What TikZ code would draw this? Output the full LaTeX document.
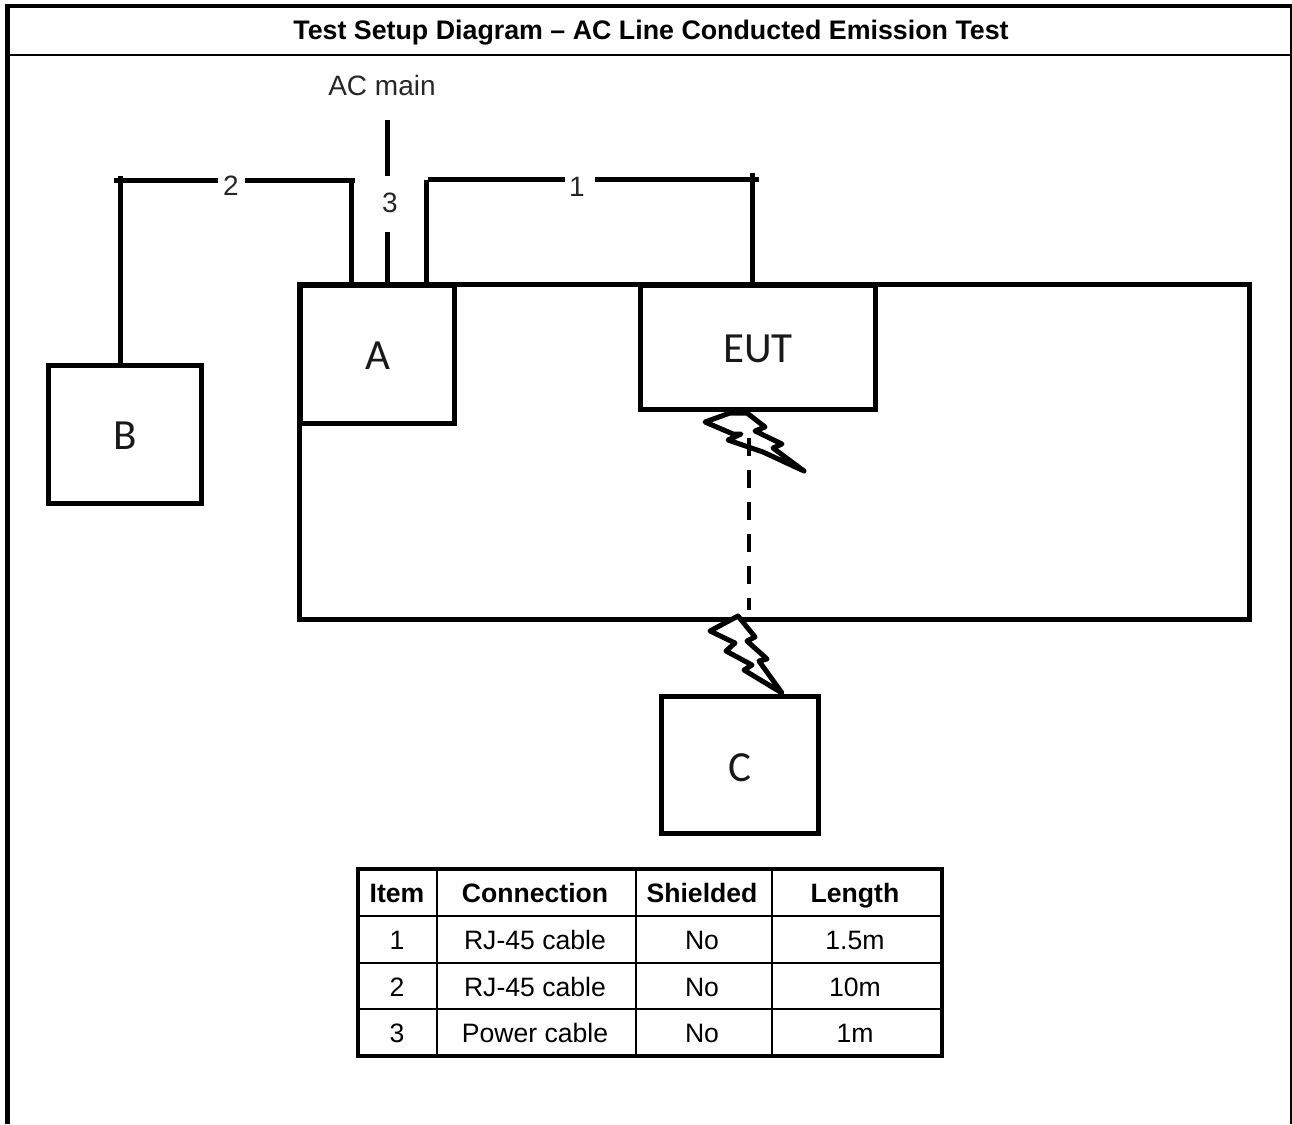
\documentclass[tikz,border=0pt]{standalone}
\usepackage{fontspec}
\setmainfont{Liberation Sans}
\newfontfamily\boxfont{Carlito}
\begin{document}
\begin{tikzpicture}[x=1pt,y=-1pt,
  wire/.style={line width=5pt,black},
  boxn/.style={draw=black,line width=5pt,inner sep=0pt},
  boxt/.style={inner sep=0pt,font=\boxfont\fontsize{43}{43}\selectfont,text=black!90},
  lab/.style={inner sep=0pt,anchor=base,font=\fontsize{28}{28}\selectfont,text=black!85},
  bolt/.style={line width=5pt,line join=round,fill=white,draw=black},
  cell/.style={inner sep=0pt,anchor=base,font=\fontsize{26.6}{26.6}\selectfont,text=black},
  hcell/.style={inner sep=0pt,anchor=base,font=\bfseries\fontsize{26.6}{26.6}\selectfont,text=black},
  rule/.style={line width=2.5pt,black},
  outerrule/.style={line width=3.2pt,black}]
\useasboundingbox (0,0) rectangle (1292,1124);
% frame
\draw[line width=2pt] (1291,5.8) -- (1291,1124);
\draw[line width=4.4pt] (7.3,1124) -- (7.3,5.8) -- (1292,5.8);
\draw[line width=2pt] (7,55) -- (1291,55);
\node[inner sep=0pt,anchor=base,font=\bfseries\fontsize{26.8}{26.8}\selectfont] (title) at (651,40) {Test Setup Diagram – AC Line Conducted Emission Test};
% boxes
\node[boxn,minimum width=950pt,minimum height=335pt] (bench) at (774,452) {};
\node[boxn,fill=white,minimum width=154pt,minimum height=138pt] (A) at (377,354.5) {};
\node[boxn,minimum width=153pt,minimum height=138pt] (B) at (124.5,434.5) {};
\node[boxn,fill=white,minimum width=235pt,minimum height=124pt] (EUT) at (757.5,347.5) {};
\node[boxn,minimum width=157pt,minimum height=137pt] (C) at (739.5,765) {};
\node[boxt] (Atext) at (377.5,356) {A};
\node[boxt] (Btext) at (125,436) {B};
\node[boxt] (EUTtext) at (758,349) {EUT};
\node[boxt] (Ctext) at (740,768) {C};
% labels
\node[lab] (acmain) at (382,95) {AC main};
\node[lab] (l2) at (231,195) {2};
\node[lab] (l3) at (390,212) {3};
\node[lab] (l1) at (577,196) {1};
% cable corners
\coordinate (b2l) at (114,180);
\coordinate (g2a) at (218,180);
\coordinate (g2b) at (245,180);
\coordinate (a2r) at (355,180);
\coordinate (a2t) at (351,180);
\coordinate (a2b) at (351,285);
\coordinate (bb) at (120,365);
\coordinate (bt2) at (120,176);
\coordinate (p3a) at (387,120);
\coordinate (p3b) at (387,176);
\coordinate (p3c) at (387,232);
\coordinate (p3d) at (387,285);
\coordinate (a1b) at (426,285);
\coordinate (a1t) at (426,180);
\coordinate (h1a) at (428,179);
\coordinate (h1b) at (565,179);
\coordinate (h1c) at (595,179);
\coordinate (h1d) at (759,179);
\coordinate (e1t) at (752,173);
\coordinate (e1b) at (752,285);
\draw[wire] (bb) -- (bt2);
\draw[wire] (b2l) -- (g2a);
\draw[wire] (g2b) -- (a2r);
\draw[wire] (a2t) -- (a2b);
\draw[wire] (p3a) -- (p3b);
\draw[wire] (p3c) -- (p3d);
\draw[wire] (a1t) -- (a1b);
\draw[wire] (h1a) -- (h1b);
\draw[wire] (h1c) -- (h1d);
\draw[wire] (e1t) -- (e1b);
% bolts
\draw[bolt] (730,413) -- (705,422) -- (733,434) -- (741,434) -- (728,440) -- (763,452) -- (804,471) -- (773,448) -- (782,444) -- (755,431) -- (765,427) -- (747,413) -- cycle;
\coordinate (d1) at (749,438);
\coordinate (d2) at (749,610);
\draw[line width=4.5pt,dash pattern=on 18pt off 14pt] (d1) -- (d2);
\draw[bolt] (738,616) -- (710,631) -- (735,643) -- (726,651) -- (752,665) -- (744,670) -- (782,693) -- (759,661) -- (767,659) -- (747,641) -- (755,637) -- cycle;
% table
\foreach \y in {916,963,1009} \draw[rule] (358,\y) -- (942,\y);
\foreach \x in {437,636,772} \draw[rule] (\x,869) -- (\x,1056);
\draw[outerrule] (358,869) rectangle (942,1056);
\node[hcell] (h1) at (397,902) {Item};
\node[hcell] (h2) at (535,902) {Connection};
\node[hcell] (h3) at (702,902) {Shielded};
\node[hcell] (h4) at (855,902) {Length};
\node[cell] (r1a) at (397,949) {1};
\node[cell] (r1b) at (535,949) {RJ-45 cable};
\node[cell] (r1c) at (702,949) {No};
\node[cell] (r1d) at (855,949) {1.5m};
\node[cell] (r2a) at (397,996) {2};
\node[cell] (r2b) at (535,996) {RJ-45 cable};
\node[cell] (r2c) at (702,996) {No};
\node[cell] (r2d) at (855,996) {10m};
\node[cell] (r3a) at (397,1042) {3};
\node[cell] (r3b) at (535,1042) {Power cable};
\node[cell] (r3c) at (702,1042) {No};
\node[cell] (r3d) at (855,1042) {1m};
\end{tikzpicture}
\end{document}
